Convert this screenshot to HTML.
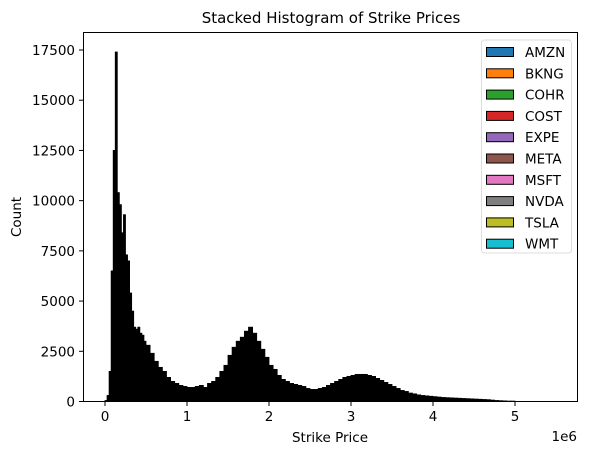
<!DOCTYPE html>
<html><head><meta charset="utf-8"><style>
body{margin:0;background:#fff;}
svg text{font-family:"DejaVu Sans","Liberation Sans",sans-serif;fill:#000;}
</style></head><body>
<svg id="chart" width="589" height="455" xmlns="http://www.w3.org/2000/svg">
<text x="331" y="23" font-size="15" text-anchor="middle">Stacked Histogram of Strike Prices</text>
<g id="bars"></g>
<g id="axes"></g>
<rect x="83.5" y="32.5" width="494" height="369" fill="none" stroke="#000" stroke-width="1"/>
<text x="330" y="442" font-size="13.5" text-anchor="middle">Strike Price</text>
<text x="21" y="217" font-size="13.5" text-anchor="middle" transform="rotate(-90 21 217)">Count</text>
<text x="577" y="441" font-size="13.5" text-anchor="end">1e6</text>
<g id="legend"></g>
</svg>
<script>
const fineEdgesStart = [0,0.025,0.05,0.075,0.1,0.125,0.15,0.175,0.2,0.225,0.25,0.275,0.3,0.325,0.35,0.375,0.4,0.425,0.45,0.475];
const fineCounts = [50,300,1500,6500,12500,17400,10400,9800,8400,9300,7300,7000,5400,4500,3700,3600,3700,3400,3300,3000];
const coarseCounts = [2800,2400,2000,1700,1500,1200,1000,900,800,750,700,700,750,800,700,900,1000,1200,1500,1800,2300,2700,3000,3200,3500,3700,3400,3000,2600,2200,1800,1600,1300,1100,1000,900,850,800,750,650,600,600,650,700,800,900,1000,1100,1200,1250,1300,1350,1350,1350,1300,1250,1150,1050,950,850,750,650,550,500,420,380,330,300,280,260,240,220,200,190,180,170,160,150,140,130,120,110,100,90,70,50,40,30,20,20];
const yTicks = [0,2500,5000,7500,10000,12500,15000,17500];
const xTicks = [0,1,2,3,4,5];
const tickers = ["AMZN","BKNG","COHR","COST","EXPE","META","MSFT","NVDA","TSLA","WMT"];
const colors = ["#1f77b4","#ff7f0e","#2ca02c","#d62728","#9467bd","#8c564b","#e377c2","#7f7f7f","#bcbd22","#17becf"];
const NS="http://www.w3.org/2000/svg";
const xs = v => 105 + v*82;
const ys = v => 401.5 - v*351.5/17500;
const bars=document.getElementById('bars');
function bar(x0,x1,c){
  const r=document.createElementNS(NS,'rect');
  r.setAttribute('x',xs(x0));r.setAttribute('width',xs(x1)-xs(x0));
  r.setAttribute('y',ys(c));r.setAttribute('height',401.5-ys(c));
  r.setAttribute('fill','#000');r.setAttribute('stroke','#000');r.setAttribute('stroke-width','0.8');
  
  
  bars.appendChild(r);
}
fineEdgesStart.forEach((e,i)=>bar(e,e+0.025,fineCounts[i]));
coarseCounts.forEach((c,i)=>bar(0.5+i*0.05,0.55+i*0.05,c));
const axes=document.getElementById('axes');
yTicks.forEach(t=>{
  const l=document.createElementNS(NS,'line');
  l.setAttribute('x1',79);l.setAttribute('x2',83.5);l.setAttribute('y1',ys(t));l.setAttribute('y2',ys(t));l.setAttribute('stroke','#000');
  
  
  axes.appendChild(l);
  const tx=document.createElementNS(NS,'text');
  tx.setAttribute('x',75);tx.setAttribute('y',ys(t)+5);tx.setAttribute('font-size','13.5');tx.setAttribute('text-anchor','end');
  tx.textContent=t;
  
  
  axes.appendChild(tx);
});
xTicks.forEach(t=>{
  const l=document.createElementNS(NS,'line');
  l.setAttribute('x1',xs(t));l.setAttribute('x2',xs(t));l.setAttribute('y1',401.5);l.setAttribute('y2',406);l.setAttribute('stroke','#000');
  
  
  axes.appendChild(l);
  const tx=document.createElementNS(NS,'text');
  tx.setAttribute('x',xs(t));tx.setAttribute('y',421);tx.setAttribute('font-size','13.5');tx.setAttribute('text-anchor','middle');
  tx.textContent=t;
  
  
  axes.appendChild(tx);
});
const lg=document.getElementById('legend');
const box=document.createElementNS(NS,'rect');
box.setAttribute('x',481.5);box.setAttribute('y',40);box.setAttribute('width',90);box.setAttribute('height',213);box.setAttribute('rx',3);
box.setAttribute('fill','#fff');box.setAttribute('stroke','#ddd');


lg.appendChild(box);
tickers.forEach((n,i)=>{
  const y=47+i*21.3;
  const p=document.createElementNS(NS,'rect');
  p.setAttribute('x',486.5);p.setAttribute('y',y+0.5);p.setAttribute('width',27);p.setAttribute('height',9);
  p.setAttribute('fill',colors[i]);p.setAttribute('stroke','#000');
  
  
  lg.appendChild(p);
  const t=document.createElementNS(NS,'text');
  t.setAttribute('x',525);t.setAttribute('y',y+10);t.setAttribute('font-size','13.5');
  t.textContent=n;
  
  
  lg.appendChild(t);
});
</script>
</body></html>
